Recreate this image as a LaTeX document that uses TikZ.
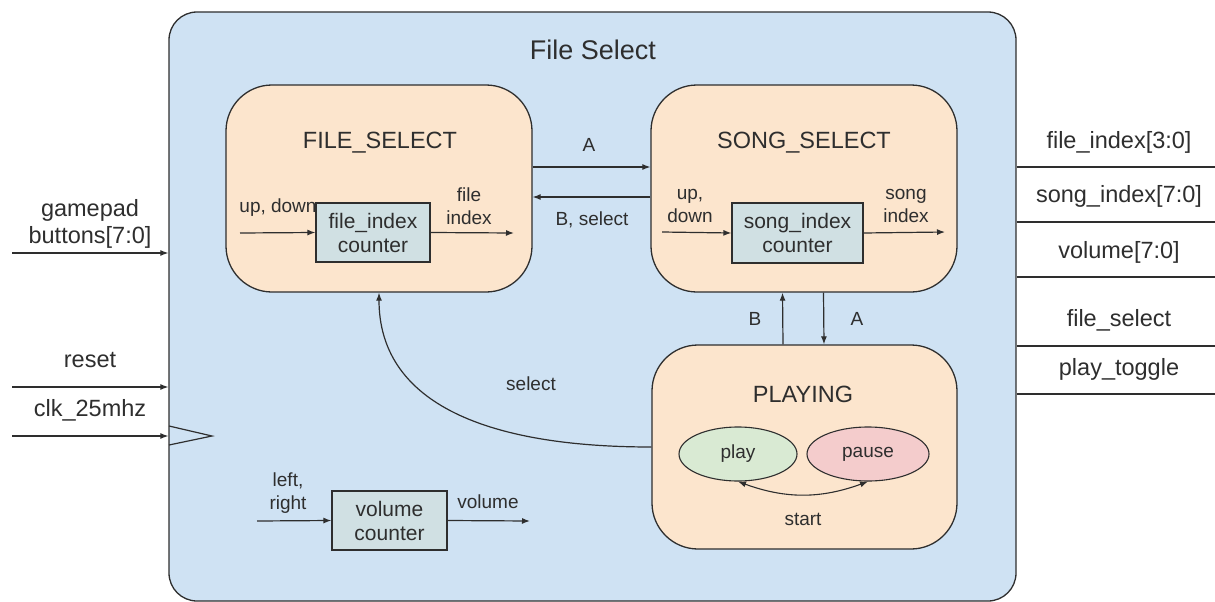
\documentclass[tikz,border=0pt]{standalone}
\usepackage{fontspec}
\setmainfont{Liberation Sans}
\usetikzlibrary{arrows.meta,shapes.geometric}

\definecolor{ink}{HTML}{2E2E2E}
\definecolor{modfill}{HTML}{CFE2F3}
\definecolor{statefill}{HTML}{FCE5CD}
\definecolor{cntfill}{HTML}{D0E0E3}
\definecolor{playfill}{HTML}{D9EAD3}
\definecolor{pausefill}{HTML}{F4CCCC}

\tikzset{
  modbox/.style={draw=ink, fill=modfill, line width=1.3pt, rounded corners=28pt, inner sep=0pt},
  statebox/.style={draw=ink, fill=statefill, line width=1.3pt, rounded corners=46pt, inner sep=0pt},
  cntbox/.style={draw=ink, fill=cntfill, line width=1.2pt, inner sep=0pt, align=center,
    text=ink, font=\fontsize{21}{24}\selectfont},
  substate/.style={draw=ink, ellipse, line width=1.1pt, inner sep=0pt, text=ink,
    font=\fontsize{19}{22}\selectfont},
  lbl/.style={text=ink, align=center, inner sep=0pt, font=\fontsize{19}{23}\selectfont},
  biglbl/.style={text=ink, align=center, inner sep=0pt, font=\fontsize{23.5}{27}\selectfont},
  sig/.style={draw=ink, line width=1.2pt, -{Latex[length=8pt,width=6pt]}},
  wire/.style={draw=ink, line width=1.2pt}
}

\begin{document}
\begin{tikzpicture}[x=1pt,y=-1pt]
  \useasboundingbox (0,0) rectangle (1215,602);

  % top-level module
  \node[modbox, minimum width=847pt, minimum height=589pt] (mod) at (592.5,306.5) {};
  \node[text=ink, inner sep=0pt, font=\fontsize{27}{30}\selectfont] (title) at (593,50) {File Select};

  % states
  \node[statebox, minimum width=306pt, minimum height=207pt] (filesel) at (379,188.5) {};
  \node[statebox, minimum width=306pt, minimum height=207pt] (songsel) at (804,188.5) {};
  \node[statebox, minimum width=305pt, minimum height=204pt] (playing) at (804.5,447) {};

  \node[biglbl] (fsname) at (380,143) {FILE\_SELECT};
  \node[biglbl] (ssname) at (804,143) {SONG\_SELECT};
  \node[biglbl] (plname) at (803,394) {PLAYING};

  % counters
  \node[cntbox, minimum width=114pt, minimum height=59pt] (fcnt) at (373,232.5) {file\_index\\counter};
  \node[cntbox, minimum width=131pt, minimum height=60pt] (scnt) at (797.5,233) {song\_index\\counter};
  \node[cntbox, minimum width=115pt, minimum height=59pt] (vcnt) at (389.5,520.5) {volume\\counter};

  % counter inputs and outputs
  \coordinate (fin) at (240,233);
  \coordinate (fout) at (514,233);
  \coordinate (sin) at (662,232);
  \coordinate (sout) at (945,232);
  \coordinate (vin) at (257,521);
  \coordinate (vout) at (530,521);
  \draw[sig] (fin) -- (fcnt.west);
  \draw[sig] (fcnt.east) -- (fout);
  \draw[sig] (sin) -- (scnt.west);
  \draw[sig] (scnt.east) -- (sout);
  \draw[sig] (vin) -- (vcnt.west);
  \draw[sig] (vcnt.east) -- (vout);

  \node[lbl] (fupdn) at (278,208) {up, down};
  \node[lbl] (fidx) at (469,206) {file\\index};
  \node[lbl] (supdn) at (690,206) {up,\\down};
  \node[lbl] (sidx) at (906,206) {song\\index};
  \node[lbl] (vlr) at (288,493) {left,\\right};
  \node[lbl] (vvol) at (488,502) {volume};

  % substates of PLAYING
  \node[substate, fill=playfill, minimum width=118pt, minimum height=54pt] (play) at (738,454) {play};
  \node[substate, fill=pausefill, minimum width=122pt, minimum height=54pt] (pause) at (868,454) {pause};
  \draw[draw=ink, line width=1.1pt, {Latex[length=8pt,width=6pt]}-{Latex[length=8pt,width=6pt]}]
    (play.south) to[bend right=20] (pause.south);
  \node[lbl] (startlbl) at (803,519) {start};

  % transitions
  \draw[sig] ([yshift=21.5pt]filesel.east) -- ([yshift=21.5pt]songsel.west);
  \draw[sig] ([yshift=-8.5pt]songsel.west) -- ([yshift=-8.5pt]filesel.east);
  \node[lbl] (tA) at (589,145) {A};
  \node[lbl] (tBsel) at (592,220) {B, select};

  \draw[sig] ([xshift=-21.5pt]playing.north) -- ([xshift=-21.5pt]songsel.south);
  \draw[sig] ([xshift=19.5pt]songsel.south) -- ([xshift=19.5pt]playing.north);
  \node[lbl] (tB) at (755,319) {B};
  \node[lbl] (tA2) at (857,319) {A};

  \draw[sig] (playing.west) .. controls (480,447) and (379,400) .. (filesel.south);
  \node[lbl] (tsel) at (531,384) {select};

  % module inputs
  \coordinate (gp) at (12,253);
  \coordinate (rst) at (12,387);
  \coordinate (clk) at (12,436);
  \draw[sig] (gp) -- (gp -| mod.west);
  \draw[sig] (rst) -- (rst -| mod.west);
  \draw[sig] (clk) -- (clk -| mod.west);
  \node[biglbl] (gplbl) at (90,223.5) {gamepad\\buttons[7:0]};
  \node[biglbl] (rstlbl) at (90,360) {reset};
  \node[biglbl] (clklbl) at (90,410) {clk\_25mhz};

  % clock input marker
  \draw[wire] (169,426) -- (212,436) -- (169,445);

  % module outputs
  \coordinate (o1) at (1215,167);
  \coordinate (o2) at (1215,222);
  \coordinate (o3) at (1215,277);
  \coordinate (o4) at (1215,346);
  \coordinate (o5) at (1215,394);
  \draw[wire] (o1 -| mod.east) -- (o1);
  \draw[wire] (o2 -| mod.east) -- (o2);
  \draw[wire] (o3 -| mod.east) -- (o3);
  \draw[wire] (o4 -| mod.east) -- (o4);
  \draw[wire] (o5 -| mod.east) -- (o5);
  \node[biglbl] (o1lbl) at (1119,142) {file\_index[3:0]};
  \node[biglbl] (o2lbl) at (1119,196) {song\_index[7:0]};
  \node[biglbl] (o3lbl) at (1119,252) {volume[7:0]};
  \node[biglbl] (o4lbl) at (1119,320) {file\_select};
  \node[biglbl] (o5lbl) at (1119,369) {play\_toggle};
\end{tikzpicture}
\end{document}
